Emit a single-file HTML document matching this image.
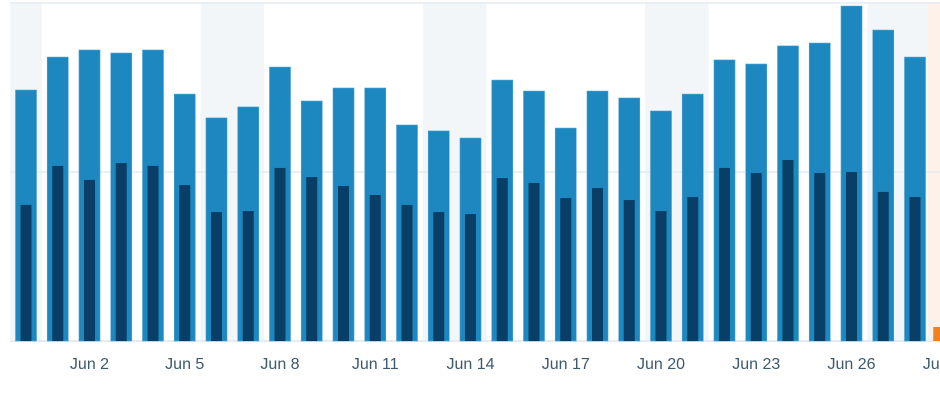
<!DOCTYPE html>
<html><head><meta charset="utf-8"><style>
body{margin:0;background:#fff;}
svg{display:block;font-family:"Liberation Sans",sans-serif;}
</style></head><body>
<svg id="chart" width="940" height="400"></svg>
<script>
const days = ["May 31","Jun 1","Jun 2","Jun 3","Jun 4","Jun 5","Jun 6","Jun 7","Jun 8","Jun 9","Jun 10","Jun 11","Jun 12","Jun 13","Jun 14","Jun 15","Jun 16","Jun 17","Jun 18","Jun 19","Jun 20","Jun 21","Jun 22","Jun 23","Jun 24","Jun 25","Jun 26","Jun 27","Jun 28","Jun 29"];
const views = [1485,1680,1722,1704,1722,1461,1320,1385,1621,1420,1497,1497,1278,1243,1201,1544,1479,1260,1479,1438,1361,1461,1663,1639,1746,1763,1982,1840,1680,83];
const visitors = [805,1036,953,1053,1036,923,763,769,1024,970,917,864,805,763,751,964,935,846,905,834,769,852,1024,994,1071,994,1000,882,852,40];
const weekend = [1,0,0,0,0,0,1,1,0,0,0,0,0,1,1,0,0,0,0,0,1,1,0,0,0,0,0,1,1,0];
const gridTicks = [0,1000,2000];
const svg = document.getElementById('chart');
const NS = 'http://www.w3.org/2000/svg';
const base = 341, pxPer = 169/1000, slot = 31.75, x0 = 26;
const xC = i => x0 + i*slot - (i===days.length-1 ? 3 : 0);
const y = v => base - v*pxPer;
function mk(tag, attrs){const e=document.createElementNS(NS,tag);for(const k in attrs)e.setAttribute(k,attrs[k]);svg.appendChild(e);return e;}
days.forEach((d,i)=>{
  const today = i===days.length-1;
  if(weekend[i]||today){
    const r=mk('rect',{x:xC(i)-slot/2,y:2,width:slot,height:base-2,fill:today?'#fdf1e9':'#f3f6f9'});
    
    
  }
});
gridTicks.forEach(t=>{
  const l=mk('line',{x1:10,x2:940,y1:y(t),y2:y(t),stroke:'#e4ebf1','stroke-width':t===0?2:1.5});
  
  
});
days.forEach((d,i)=>{
  const today = i===days.length-1;
  const b=mk('rect',{x:xC(i)-10.5,y:y(views[i]),width:21,height:views[i]*pxPer,fill:today?'#f0821e':'#1d87bf',stroke:today?'none':'#4aa3d3','stroke-width':0.6});
  
  
  if(!today){
    const v=mk('rect',{x:xC(i)-5.5,y:y(visitors[i]),width:11,height:visitors[i]*pxPer,fill:'#093f66'});
    
    
  }
  if(i%3===2){
    const t=mk('text',{x:x0+i*slot,y:369,'text-anchor':'middle','font-size':16,fill:'#3d596d'});
    t.textContent=d;
    
    
  }
});
</script>
</body></html>
